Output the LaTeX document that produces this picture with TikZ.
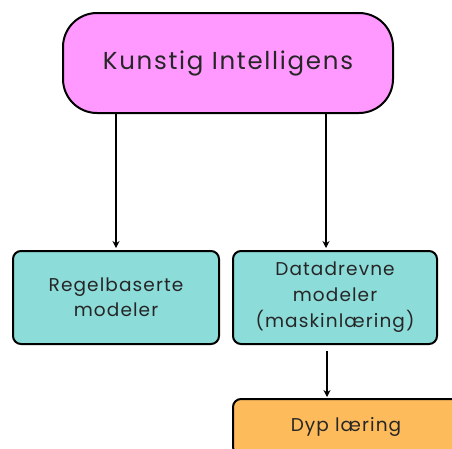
\documentclass[tikz,border=0pt]{standalone}
\usepackage{fontspec}
\setmainfont{Poppins}
\newfontfamily\widefont[LetterSpace=7]{Poppins}
\newfontfamily\boxfont[LetterSpace=6]{Poppins}
\usetikzlibrary{arrows.meta,calc}
\definecolor{pinkc}{HTML}{FF99FF}
\definecolor{tealc}{HTML}{8CDCD9}
\definecolor{orangec}{HTML}{FDBB5B}
\begin{document}
\begin{tikzpicture}[x=1pt,y=-1pt,
  box/.style={draw=black,line width=2pt,rounded corners=8pt,anchor=north west,inner sep=0pt,align=center,text=black!85},
  arr/.style={-{Stealth[length=7pt,width=7pt]},line width=1.9pt}]
\useasboundingbox (0,0) rectangle (452,448);
\begin{scope}
\clip (0,0) rectangle (452,448);
\node[box,fill=pinkc,rounded corners=34pt,minimum width=330pt,minimum height=100pt,font=\widefont\fontsize{24.5}{28}\selectfont] (top) at (62,12) {Kunstig Intelligens};
\node[box,fill=tealc,minimum width=206pt,minimum height=93pt,font=\boxfont\fontsize{18.5}{25}\selectfont] (regel) at (12,250) {Regelbaserte\\modeler};
\node[box,fill=tealc,minimum width=204pt,minimum height=93pt,font=\boxfont\fontsize{18.5}{26}\selectfont] (data) at (232,250) {Datadrevne\\modeler\\(maskinlæring)};
\node[box,fill=orangec,minimum width=226pt,minimum height=56pt,font=\boxfont\fontsize{18.5}{20}\selectfont] (dyp) at (232,398) {\raisebox{5pt}{Dyp læring}};
\end{scope}
\coordinate (a1) at (top.south -| regel.north);
\coordinate (b1) at (326,112);
\coordinate (b2) at (326,250);
\coordinate (c1) at (327,351);
\coordinate (c2) at (327,398);
\draw[arr,shorten >=2pt] (a1) -- (regel.north);
\draw[arr,shorten >=2pt] (b1) -- (b2);
\draw[arr,shorten >=1pt] (c1) -- (c2);
\end{tikzpicture}
\end{document}
